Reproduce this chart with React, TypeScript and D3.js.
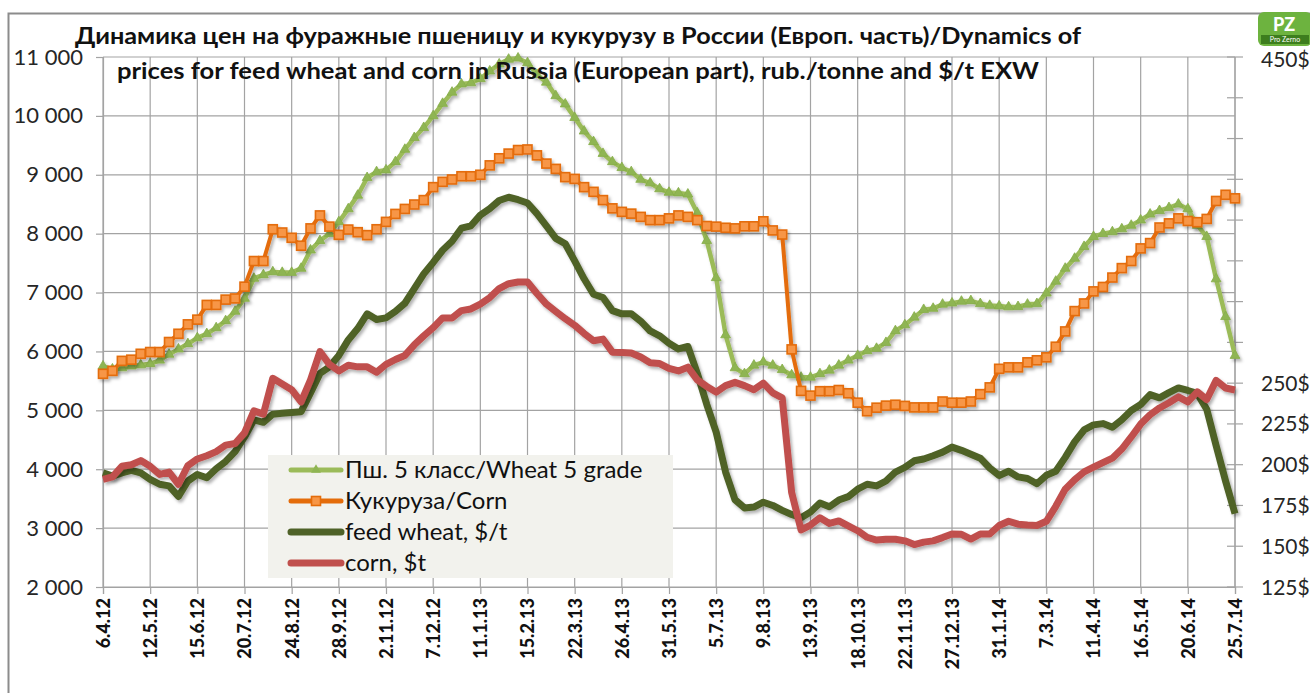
import React, { useEffect, useRef } from "react";
import * as d3 from "d3";

// dates shown under every 5th weekly point
const tickLabels = [
  "6.4.12", "12.5.12", "15.6.12", "20.7.12", "24.8.12", "28.9.12", "2.11.12", "7.12.12",
  "11.1.13", "15.2.13", "22.3.13", "26.4.13", "31.5.13", "5.7.13", "9.8.13", "13.9.13",
  "18.10.13", "22.11.13", "27.12.13", "31.1.14", "7.3.14", "11.4.14", "16.5.14", "20.6.14", "25.7.14"
];

// rub./tonne
const wheatRub = [
  5750, 5700, 5720, 5750, 5770, 5790, 5850, 5950, 6040, 6130,
  6230, 6300, 6400, 6520, 6680, 6900, 7240, 7300, 7350, 7340,
  7340, 7410, 7720, 7880, 8000, 8200, 8420, 8650, 8950, 9050,
  9080, 9220, 9430, 9630, 9800, 10000, 10210, 10400, 10540, 10560,
  10630, 10760, 10880, 10960, 10980, 10900, 10700, 10570, 10340, 10200,
  9970, 9740, 9560, 9360, 9220, 9120, 9050, 8920, 8860, 8760,
  8700, 8690, 8670, 8350, 7880, 7250, 6280, 5720, 5620, 5765,
  5820, 5765, 5690, 5600, 5560, 5560, 5620, 5680, 5765, 5850,
  5930, 6010, 6050, 6150, 6350, 6450, 6580, 6710, 6730, 6800,
  6820, 6850, 6860, 6810, 6780, 6770, 6755, 6760, 6800, 6810,
  6990, 7190, 7410, 7580, 7780, 7950, 8000, 8030, 8080, 8140,
  8230, 8330, 8390, 8440, 8500, 8420, 8140, 7950, 7230, 6590,
  5930
];

const cornRub = [
  5620, 5670, 5840, 5860, 5960, 5990, 5990, 6160, 6300, 6460,
  6540, 6790, 6790, 6880, 6900, 7100, 7535, 7535, 8075, 8020,
  7930, 7795, 8090, 8310, 8120, 7980, 8070, 8025, 7975, 8075,
  8200, 8335, 8420, 8495, 8570, 8790, 8880, 8920, 8975, 8975,
  9000, 9160, 9280, 9360, 9420, 9430, 9330, 9190, 9100, 8960,
  8930, 8790, 8710, 8570, 8430, 8370, 8340, 8285, 8230, 8230,
  8260, 8310, 8285, 8230, 8130, 8120, 8100, 8090, 8125, 8125,
  8210, 8055, 7985, 6035, 5330, 5250, 5325, 5325, 5345, 5290,
  5130, 4985, 5045, 5080, 5095, 5075, 5050, 5050, 5050, 5150,
  5130, 5130, 5150, 5275, 5390, 5705, 5730, 5730, 5815, 5850,
  5900, 6080, 6340, 6685, 6815, 7020, 7095, 7255, 7415, 7535,
  7750, 7840, 8105, 8175, 8260, 8215, 8195, 8250, 8555, 8660,
  8600
];

// $/t, right axis
const wheatUsd = [
  195, 193, 195, 196.5, 195, 191, 188, 187, 180.5, 190,
  194, 192, 197.5, 202, 208, 217, 227.5, 226, 231, 231.5,
  232, 232.5, 244, 256, 260, 267, 276.5, 283.5, 292.5, 289,
  290, 294, 299, 308, 317, 324, 331.5, 337, 345, 346.5,
  353, 357, 362, 364, 362.5, 360.5, 354, 346.5, 338.8, 335.5,
  325, 314, 304.5, 302.5, 294.5, 292.5, 292.5, 288, 282, 279,
  274.5, 271, 272.5, 256, 237, 220, 195.5, 178.5, 173.5, 174,
  177, 175, 172, 169.5, 167.5, 171, 176.5, 174.2, 178.3, 180.4,
  185, 188, 187, 190, 195.5, 198.3, 202.4, 203.5, 205.5, 207.7,
  210.8, 208.8, 206.4, 204, 198, 193.4, 196, 192.5, 191.5, 188.3,
  193.5, 196, 204.5, 214, 221.3, 224.4, 225.2, 223, 227.5, 233.2,
  236.9, 243, 241, 244.2, 247.1, 245.5, 243.7, 234, 211.7, 190,
  170
];

const cornUsd = [
  191, 192.5, 199, 200, 202.5, 199, 194, 195.5, 188, 199.5,
  203.5, 205.5, 208, 212, 213, 219.5, 233, 231, 253, 249.5,
  246, 238.5, 252, 269.3, 261.5, 257.5, 261, 260, 260, 256.7,
  261.5, 264.5, 267, 273.5, 279, 284, 290, 290, 294.5, 295.5,
  298.5, 302.5, 308, 311, 312, 312, 305, 298.5, 294, 289.5,
  285.5, 280.5, 276, 277, 269, 268.8, 268.5, 266, 262.5, 262,
  259, 257.5, 259.8, 252, 248, 244.5, 248.5, 250.5, 248.5, 246,
  250, 244, 241, 183, 160, 163, 167.5, 164, 165.5, 162.5,
  159.5, 155.5, 153.8, 154.3, 154.3, 153.3, 151, 152.5, 153.3, 155.3,
  157.5, 157.3, 154.4, 157.5, 157.5, 162.7, 165.3, 163.5, 163, 162.7,
  165.3, 174.5, 185, 190.8, 195.6, 198.5, 201.3, 204, 209.6, 217,
  224.9, 230.6, 234.8, 238, 241.6, 238.5, 244.7, 240, 251.7, 247,
  245.8
];

const rubTicks = [2000, 3000, 4000, 5000, 6000, 7000, 8000, 9000, 10000, 11000];
const usdTicks = [125, 150, 175, 200, 225, 250, 275, 300, 325, 350, 375, 400, 425, 450];
const usdLabels = [125, 150, 175, 200, 225, 250, 450];
const seriesNames = ["Пш. 5 класс/Wheat 5 grade", "Кукуруза/Corn", "feed wheat, $/t", "corn, $t"];

const titleLines = [
  "Динамика цен на фуражные пшеницу и кукурузу в России (Европ. часть)/Dynamics of",
  "prices for feed wheat and corn in Russia (European part), rub./tonne and $/t EXW"
];

const FONT = "Lato, 'Open Sans', sans-serif";

function App() {
  const chart = useRef<SVGSVGElement>(null);

  useEffect(() => {
    const width = 1310;
    const height = 693;
    const plot = { left: 103, right: 1235, top: 57, bottom: 587 };
    const gridColor = "#a3a3a3";

    const svg = d3.select(chart.current)
      .attr("width", width)
      .attr("height", height)
      .style("font-family", FONT);

    svg.append("rect").attr("width", width).attr("height", height).attr("fill", "#fff");

    const defs = svg.append("defs");
    defs.append("filter")
      .attr("id", "shadow")
      .attr("x", "-5%").attr("y", "-5%").attr("width", "110%").attr("height", "110%")
      .append("feDropShadow")
        .attr("dx", 2).attr("dy", 2.5).attr("stdDeviation", 1.6)
        .attr("flood-color", "#000").attr("flood-opacity", 0.3);

    // chart area border
    svg.append("rect")
      .attr("x", 8.5).attr("y", 13.5)
      .attr("width", width + 20).attr("height", height + 20)
      .attr("fill", "none").attr("stroke", "#8c8c8c").attr("stroke-width", 2);

    const x = d3.scaleLinear().domain([0, wheatRub.length - 1]).range([plot.left, plot.right]);
    const yL = d3.scaleLinear().domain([2000, 11000]).range([plot.bottom, plot.top]);
    const yR = d3.scaleLinear().domain([125, 450]).range([plot.bottom, plot.top]);

    // horizontal grid
    svg.append("g").selectAll("line")
      .data(rubTicks)
      .enter()
      .append("line")
        .attr("x1", plot.left).attr("x2", plot.right)
        .attr("y1", d => yL(d)).attr("y2", d => yL(d))
        .attr("stroke", gridColor).attr("stroke-width", 1.2);

    // vertical grid, every 5th week
    const tickIdx = tickLabels.map((_, i) => i * 5);
    svg.append("g").selectAll("line")
      .data(tickIdx)
      .enter()
      .append("line")
        .attr("x1", d => x(d)).attr("x2", d => x(d))
        .attr("y1", plot.top).attr("y2", plot.bottom)
        .attr("stroke", gridColor).attr("stroke-width", 1.2);

    // left axis
    const fmt = (v: number) => d3.format(",")(v).replace(",", " ");
    const leftAxis = d3.axisLeft(yL).tickValues(rubTicks).tickSize(7).tickPadding(13).tickFormat(d => fmt(d as number));
    const gl = svg.append("g").attr("transform", `translate(${plot.left},0)`).call(leftAxis);
    gl.select(".domain").attr("stroke", gridColor).attr("stroke-width", 1.2);
    gl.selectAll(".tick line").attr("stroke", gridColor).attr("stroke-width", 1.2);
    gl.selectAll(".tick text")
      .attr("fill", "#262626")
      .style("font-size", "22px")
      .style("font-family", FONT);

    // bottom axis
    const bottomAxis = d3.axisBottom(x).tickValues(tickIdx).tickSize(7).tickFormat((_, i) => tickLabels[i]);
    const gb = svg.append("g").attr("transform", `translate(0,${plot.bottom})`).call(bottomAxis);
    gb.select(".domain").attr("stroke", gridColor).attr("stroke-width", 1.2);
    gb.selectAll(".tick line").attr("stroke", gridColor).attr("stroke-width", 1.2);
    gb.selectAll(".tick text")
      .attr("transform", "rotate(-90)")
      .attr("x", -11)
      .attr("y", 0)
      .attr("dy", "0.36em")
      .attr("text-anchor", "end")
      .attr("fill", "#111")
      .style("font-size", "18px")
      .style("font-weight", "900")
      .style("font-family", FONT);

    // right axis: crossing ticks
    svg.append("line")
      .attr("x1", plot.right).attr("x2", plot.right)
      .attr("y1", plot.top).attr("y2", plot.bottom)
      .attr("stroke", gridColor).attr("stroke-width", 1.2);
    svg.append("g").selectAll("line")
      .data(usdTicks)
      .enter()
      .append("line")
        .attr("x1", plot.right - 8).attr("x2", plot.right + 8)
        .attr("y1", d => yR(d)).attr("y2", d => yR(d))
        .attr("stroke", gridColor).attr("stroke-width", 1.2);
    svg.append("g").selectAll("text")
      .data(usdLabels)
      .enter()
      .append("text")
        .attr("x", 1261)
        .attr("y", d => yR(d) + (d === 450 ? 2 : 0))
        .attr("dy", "0.36em")
        .attr("fill", "#262626")
        .style("font-size", "21px")
        .text(d => d + "$");

    // series
    const lineL = d3.line<number>().x((d, i) => x(i)).y(d => yL(d));
    const lineR = d3.line<number>().x((d, i) => x(i)).y(d => yR(d));

    const g1 = svg.append("g").attr("filter", "url(#shadow)");
    g1.append("path")
      .attr("d", lineL(wheatRub))
      .attr("fill", "none").attr("stroke", "#9bbb59").attr("stroke-width", 4.5)
      .attr("stroke-linejoin", "round");
    g1.selectAll(".tri")
      .data(wheatRub)
      .enter()
      .append("path")
        .attr("class", "tri")
        .attr("d", d3.symbol().type(d3.symbolTriangle).size(42))
        .attr("transform", (d, i) => `translate(${x(i)},${yL(d)})`)
        .attr("fill", "#8fb553").attr("stroke", "#86ad4a").attr("stroke-width", 0.8);

    const g2 = svg.append("g").attr("filter", "url(#shadow)");
    g2.append("path")
      .attr("d", lineL(cornRub))
      .attr("fill", "none").attr("stroke", "#e46c0a").attr("stroke-width", 4)
      .attr("stroke-linejoin", "round");
    g2.selectAll(".sq")
      .data(cornRub)
      .enter()
      .append("rect")
        .attr("class", "sq")
        .attr("x", (d, i) => x(i) - 4.5)
        .attr("y", d => yL(d) - 4.5)
        .attr("width", 9).attr("height", 9)
        .attr("fill", "#f79646").attr("stroke", "#e46c0a").attr("stroke-width", 1.6);

    svg.append("path")
      .attr("d", lineR(wheatUsd))
      .attr("filter", "url(#shadow)")
      .attr("fill", "none").attr("stroke", "#4f6228").attr("stroke-width", 7)
      .attr("stroke-linejoin", "round");

    svg.append("path")
      .attr("d", lineR(cornUsd))
      .attr("filter", "url(#shadow)")
      .attr("fill", "none").attr("stroke", "#c0504d").attr("stroke-width", 7)
      .attr("stroke-linejoin", "round");

    // title (drawn over the plot, like the original)
    svg.append("g").selectAll("text")
      .data(titleLines)
      .enter()
      .append("text")
        .attr("x", 578)
        .attr("y", (d, i) => 44 + i * 35)
        .attr("text-anchor", "middle")
        .attr("textLength", (d, i) => (i === 0 ? 1006 : 922))
        .attr("lengthAdjust", "spacingAndGlyphs")
        .attr("fill", "#111")
        .style("font-size", "23px")
        .style("font-weight", "bold")
        .text(d => d);

    // legend
    const legend = svg.append("g");
    legend.append("rect")
      .attr("x", 268).attr("y", 455).attr("width", 405).attr("height", 123)
      .attr("fill", "#f2f2ed");
    const rowY = [470, 501, 532, 563];
    const legendColors = ["#9bbb59", "#e46c0a", "#4f6228", "#c0504d"];
    const legendWidths = [5, 5, 7, 7];
    seriesNames.forEach((name, i) => {
      legend.append("line")
        .attr("x1", 291).attr("x2", 341)
        .attr("y1", rowY[i]).attr("y2", rowY[i])
        .attr("stroke", legendColors[i]).attr("stroke-width", legendWidths[i])
        .attr("stroke-linecap", "round");
      legend.append("text")
        .attr("x", 345).attr("y", rowY[i])
        .attr("dy", "0.35em")
        .attr("fill", "#111")
        .style("font-size", "24px")
        .text(name);
    });
    legend.append("path")
      .attr("d", d3.symbol().type(d3.symbolTriangle).size(42))
      .attr("transform", `translate(316,${rowY[0]})`)
      .attr("fill", "#8fb553");
    legend.append("rect")
      .attr("x", 311.5).attr("y", rowY[1] - 4.5).attr("width", 9).attr("height", 9)
      .attr("fill", "#f79646").attr("stroke", "#e46c0a").attr("stroke-width", 1.6);

    // logo
    const logo = svg.append("g").attr("transform", "translate(1258,12)");
    logo.append("rect").attr("width", 54).attr("height", 34).attr("rx", 6).attr("fill", "#6db33f");
    logo.append("text")
      .attr("x", 26).attr("y", 19)
      .attr("text-anchor", "middle")
      .attr("fill", "#ffffff")
      .style("font-size", "18px").style("font-weight", "900")
      .text("PZ");
    logo.append("rect").attr("x", 3).attr("y", 23).attr("width", 48).attr("height", 9).attr("fill", "#3d7d1e");
    logo.append("text")
      .attr("x", 27).attr("y", 30)
      .attr("text-anchor", "middle")
      .attr("fill", "#ffffff")
      .style("font-size", "7px")
      .text("Pro Zerno");

    return () => {
      svg.selectAll("*").remove();
    };
  }, []);

  return (
    <div style={{ position: "absolute", left: 0, top: 0 }}>
      <svg ref={chart}></svg>
    </div>
  );
}

export default App;
